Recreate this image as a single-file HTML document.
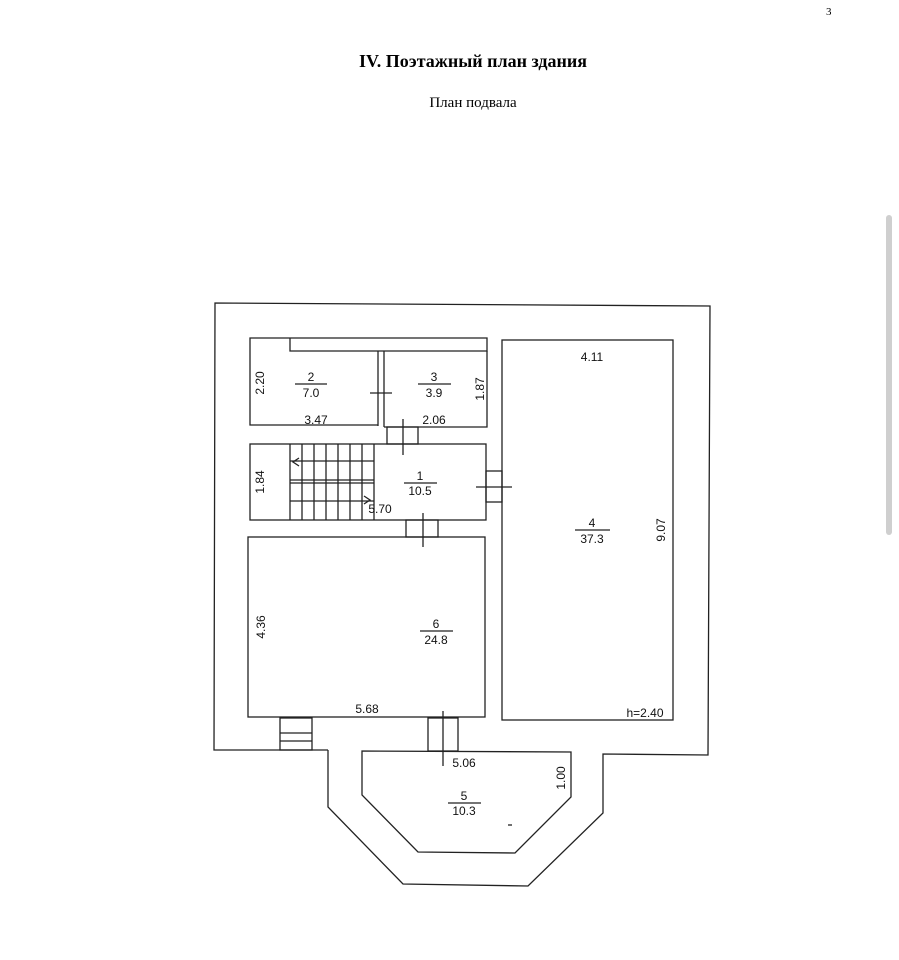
<!DOCTYPE html>
<html><head><meta charset="utf-8"><style>
html,body{margin:0;padding:0;background:#fff;width:899px;height:960px;overflow:hidden}
svg{display:block}
</style></head><body>
<svg width="899" height="960" viewBox="0 0 899 960" xmlns="http://www.w3.org/2000/svg">
<rect x="886" y="215" width="6" height="320" rx="3" fill="#cfcfcf"/>
<text x="826" y="15" font-family="Liberation Serif,serif" font-size="11">3</text>
<text x="473" y="67" text-anchor="middle" font-family="Liberation Serif,serif" font-size="18" font-weight="bold">IV. Поэтажный план здания</text>
<text x="473" y="107" text-anchor="middle" font-family="Liberation Serif,serif" font-size="15">План подвала</text>
<g fill="none" stroke="#222" stroke-width="1.3">
<polyline points="328,750 214,750 215,303 710,306 708,755 603,754 603,813 528,886 403,884 328,807 328,750"/>
<polygon points="362,751 571,752 571,797 515,853 418,852 362,795"/>
<rect x="248" y="537" width="237" height="180"/>
<rect x="502" y="340" width="171" height="380"/>
<polyline points="290,338 250,338 250,425 378,425"/>
<polyline points="290,338 487,338 487,351 290,351 290,338"/>
<polyline points="384,427 487,427 487,351"/>
<line x1="378" y1="351" x2="378" y2="426"/><line x1="384" y1="351" x2="384" y2="427"/>
<line x1="370" y1="393" x2="392" y2="393"/>
<rect x="250" y="444" width="236" height="76"/>
<line x1="290" y1="444" x2="290" y2="520"/>
<line x1="302" y1="444" x2="302" y2="520"/><line x1="314" y1="444" x2="314" y2="520"/>
<line x1="326" y1="444" x2="326" y2="520"/><line x1="338" y1="444" x2="338" y2="520"/>
<line x1="350" y1="444" x2="350" y2="520"/><line x1="362" y1="444" x2="362" y2="520"/>
<line x1="374" y1="444" x2="374" y2="520"/>
<line x1="290" y1="461" x2="374" y2="461"/><line x1="290" y1="480" x2="374" y2="480"/>
<line x1="290" y1="483" x2="374" y2="483"/><line x1="290" y1="501" x2="374" y2="501"/>
<polyline points="299,458 293,462 299,466"/><polyline points="364,496 370,500 364,504"/>
<rect x="387" y="427" width="31" height="17"/><line x1="403" y1="419" x2="403" y2="455"/>
<rect x="486" y="471" width="16" height="31"/><line x1="476" y1="487" x2="512" y2="487"/>
<rect x="406" y="520" width="32" height="17"/><line x1="423" y1="513" x2="423" y2="547"/>
<rect x="428" y="718" width="30" height="33"/><line x1="443" y1="711" x2="443" y2="766"/>
<rect x="280" y="718" width="32" height="32"/><line x1="280" y1="733" x2="312" y2="733"/><line x1="280" y1="741" x2="312" y2="741"/>
<line x1="295" y1="384" x2="327" y2="384"/><line x1="418" y1="384" x2="451" y2="384"/>
<line x1="404" y1="483" x2="437" y2="483"/><line x1="575" y1="530" x2="610" y2="530"/>
<line x1="420" y1="631" x2="453" y2="631"/><line x1="448" y1="803" x2="481" y2="803"/>
<line x1="508" y1="825" x2="512" y2="825"/>
</g>
<g font-family="Liberation Sans,sans-serif" font-size="12" fill="#111" text-anchor="middle">
<text x="311" y="381">2</text><text x="311" y="397">7.0</text>
<text x="434" y="381">3</text><text x="434" y="397">3.9</text>
<text x="316" y="424">3.47</text><text x="434" y="424">2.06</text>
<text x="420" y="480">1</text><text x="420" y="495">10.5</text>
<text x="380" y="513">5.70</text>
<text x="592" y="361">4.11</text>
<text x="592" y="527">4</text><text x="592" y="543">37.3</text>
<text x="436" y="628">6</text><text x="436" y="644">24.8</text>
<text x="367" y="713">5.68</text>
<text x="645" y="717">h=2.40</text>
<text x="464" y="767">5.06</text>
<text x="464" y="800">5</text><text x="464" y="815">10.3</text>
<text transform="translate(264,383) rotate(-90)">2.20</text>
<text transform="translate(484,389) rotate(-90)">1.87</text>
<text transform="translate(264,482) rotate(-90)">1.84</text>
<text transform="translate(665,530) rotate(-90)">9.07</text>
<text transform="translate(265,627) rotate(-90)">4.36</text>
<text transform="translate(565,778) rotate(-90)">1.00</text>
</g>
</svg>
</body></html>
